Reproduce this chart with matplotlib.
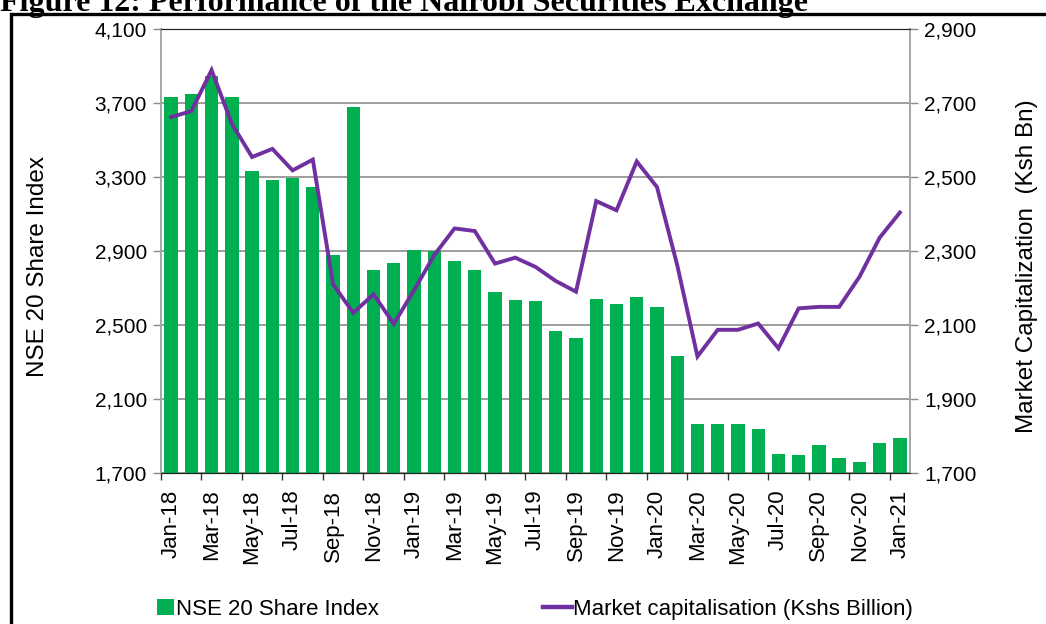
import numpy as np
import matplotlib
matplotlib.use("Agg")
import matplotlib.pyplot as plt
from matplotlib.patches import Rectangle, Patch
from matplotlib.lines import Line2D
from matplotlib.ticker import FuncFormatter

plt.rcParams['font.family'] = ['Liberation Sans', 'DejaVu Sans']

# monthly labels Jan-18 .. Jan-21
months = ['Jan-18', 'Feb-18', 'Mar-18', 'Apr-18', 'May-18', 'Jun-18', 'Jul-18',
          'Aug-18', 'Sep-18', 'Oct-18', 'Nov-18', 'Dec-18',
          'Jan-19', 'Feb-19', 'Mar-19', 'Apr-19', 'May-19', 'Jun-19', 'Jul-19',
          'Aug-19', 'Sep-19', 'Oct-19', 'Nov-19', 'Dec-19',
          'Jan-20', 'Feb-20', 'Mar-20', 'Apr-20', 'May-20', 'Jun-20', 'Jul-20',
          'Aug-20', 'Sep-20', 'Oct-20', 'Nov-20', 'Dec-20', 'Jan-21']

# NSE 20 share index (left axis)
nse20 = [3735, 3750, 3845, 3735, 3330, 3286, 3295, 3245, 2876, 3680, 2795, 2833,
         2908, 2899, 2847, 2796, 2678, 2633, 2628, 2466, 2428, 2640, 2615, 2653,
         2597, 2335, 1963, 1963, 1963, 1937, 1801, 1795, 1849, 1783, 1758, 1863,
         1889]

# market capitalisation, Kshs billion (right axis)
mkt_cap = [2662, 2678, 2789, 2644, 2554, 2576, 2518, 2547, 2210, 2133, 2183, 2103,
           2194, 2289, 2361, 2354, 2266, 2282, 2257, 2219, 2190, 2435, 2410, 2542,
           2473, 2262, 2015, 2087, 2087, 2104, 2037, 2145, 2149, 2149, 2230, 2336,
           2404]

GREEN = '#00B050'
PURPLE = '#7030A0'

fig = plt.figure(figsize=(10.46, 6.24), dpi=100)
ax = fig.add_axes([0.1539, 0.242, 0.7161, 0.7115])
ax2 = ax.twinx()

x = np.arange(len(months))
ax.bar(x, nse20, width=0.66, color=GREEN, zorder=2)
ax2.plot(x, mkt_cap, color=PURPLE, lw=2.8, solid_joinstyle='miter')

ax.set_xlim(-0.5, len(months) - 0.5)
ax.set_ylim(1700, 4100)
ax2.set_ylim(1700, 2900)
ax.set_yticks(np.arange(1700, 4101, 400))
ax2.set_yticks(np.arange(1700, 2901, 200))
fmt = FuncFormatter(lambda v, p: f'{v:,.0f}')
ax.yaxis.set_major_formatter(fmt)
ax2.yaxis.set_major_formatter(fmt)

# labels every other month, tick marks between categories
ax.set_xticks(x[::2])
ax.set_xticklabels(months[::2], rotation=90)
ax.set_xticks(np.arange(-0.5, len(months) - 1, 2), minor=True)
ax.tick_params(axis='x', which='major', length=0, pad=12, labelsize=16)
ax.tick_params(axis='x', which='minor', length=5, width=1, color='#333333')
ax.tick_params(axis='y', length=6, width=1, color='#8c8c8c', labelsize=15, pad=4)
ax2.tick_params(axis='y', length=6, width=1, color='#8c8c8c', labelsize=15, pad=4)

ax.set_axisbelow(True)
ax.yaxis.grid(True, color='#8c8c8c', lw=1.2)

for a in (ax, ax2):
    a.spines['left'].set_color('#a6a6a6')
    a.spines['right'].set_color('#a6a6a6')
    a.spines['left'].set_linewidth(1.2)
    a.spines['right'].set_linewidth(1.2)
    a.spines['top'].set_color('#222222')
    a.spines['bottom'].set_color('#222222')

ax.set_ylabel('NSE 20 Share Index', fontsize=17.5)
ax.yaxis.set_label_coords(-0.1495, 0.466)
ax2.set_ylabel('Market Capitalization  (Ksh Bn)', fontsize=17.5)
ax2.yaxis.set_label_coords(1.1415, 0.466)

# two legend entries placed separately, as in the source chart
leg1 = fig.legend([Patch(facecolor=GREEN, edgecolor='none')], ['NSE 20 Share Index'],
                  loc='center left', bbox_to_anchor=(157 / 1046, 0.024),
                  frameon=False, fontsize=16, handlelength=0.75, handleheight=0.75,
                  handletextpad=0.1, borderpad=0, borderaxespad=0)
leg2 = fig.legend([Line2D([], [], color=PURPLE, lw=3.2)],
                  ['Market capitalisation (Kshs Billion)'],
                  loc='center left', bbox_to_anchor=(543 / 1046, 0.024),
                  frameon=False, fontsize=16, handlelength=1.3,
                  handletextpad=0.05, borderpad=0, borderaxespad=0)

# black frame around figure (cut off at right/bottom)
fig.add_artist(Rectangle((11 / 1046, -0.1), 1.2, 1.1 - 14 / 624,
                         transform=fig.transFigure, fill=False,
                         edgecolor='black', lw=2.4, clip_on=False))

fig.text(0.0, 1 - 11 / 624, 'Figure 12: Performance of the Nairobi Securities Exchange',
         family='Liberation Serif', weight='bold', fontsize=23, va='baseline')

fig.savefig('out.png', dpi=100)
